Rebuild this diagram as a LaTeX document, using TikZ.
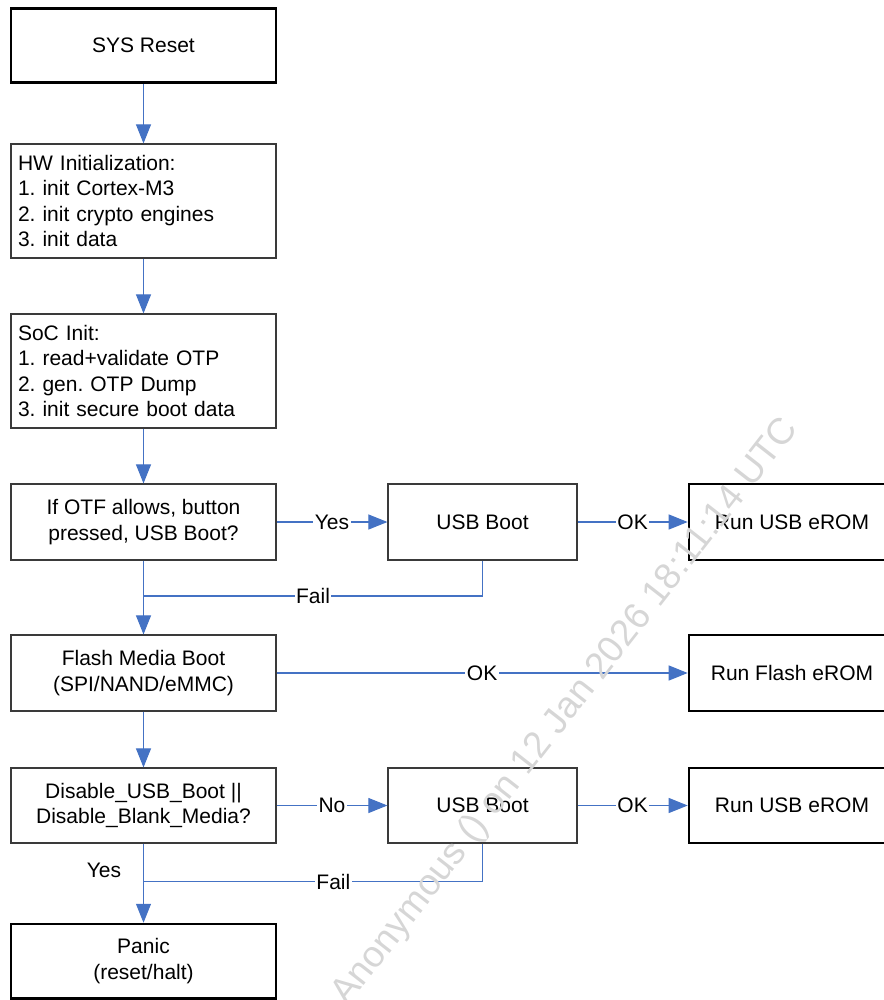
\documentclass[tikz,border=0pt]{standalone}
\usepackage{fontspec}
\setmainfont{Liberation Sans}
\usetikzlibrary{arrows.meta}
\definecolor{lineblue}{HTML}{4472C4}
\definecolor{boxgray}{HTML}{3A3A3A}
\newcommand\mainsz{\fontsize{21}{25.5}\selectfont\frenchspacing}
\tikzset{
  box/.style={draw=boxgray, line width=1.2pt, minimum width=265pt, minimum height=76pt,
              inner sep=0pt, align=center, font=\mainsz},
  listbox/.style={box, align=left, text width=251pt, inner xsep=7pt, inner ysep=0pt, minimum height=114pt},
  smallbox/.style={box, minimum width=189pt},
  runbox/.style={box, minimum width=206pt},
  heavy/.style={draw=black, line width=2.6pt},
  wire/.style={draw=lineblue, line width=1.1pt},
  conn/.style={wire, -{Triangle[length=19pt,width=15pt]}},
  lbl/.style={fill=white, inner sep=1.5pt, font=\mainsz, text=black},
}
\begin{document}
\begin{tikzpicture}[x=1pt, y=-1pt]
\useasboundingbox (0,0) rectangle (883,1000);

% left column
\node[box, heavy, minimum height=74.5pt] (sys) at (143.5,45.5) {SYS Reset};
\node[listbox] (hw) at (143.5,201) {HW Initialization:\\1. init Cortex-M3\\2. init crypto engines\\3. init data};
\node[listbox] (soc) at (143.5,371) {SoC Init:\\1. read+validate OTP\\2. gen. OTP Dump\\3. init secure boot data};
\node[box] (otf) at (143.5,522) {If OTF allows, button\\pressed, USB Boot?};
\node[box] (flash) at (143.5,673) {Flash Media Boot\\(SPI/NAND/eMMC)};
\node[box, minimum height=75pt] (dis) at (143.5,805.5) {Disable\_USB\_Boot ||\\Disable\_Blank\_Media?};
\node[box, heavy, minimum height=74.5pt] (panic) at (143.5,961.3) {Panic\\(reset/halt)};

% right columns
\node[smallbox] (usb1) at (482.5,522) {USB Boot};
\node[runbox, heavy] (run1) at (792,522) {Run USB eROM};
\node[runbox, heavy] (runf) at (792,673) {Run Flash eROM};
\node[smallbox, minimum height=75pt] (usb2) at (482.5,805.5) {USB Boot};
\node[runbox, heavy, minimum height=75pt] (run2) at (792,805.5) {Run USB eROM};

% junctions of the fail paths
\coordinate (j1) at (143.5,596);
\coordinate (j2) at (143.5,881.5);

% main flow
\draw[conn] (sys) -- (hw);
\draw[conn] (hw) -- (soc);
\draw[conn] (soc) -- (otf);
\draw[conn] (otf) -- (flash);
\draw[conn] (flash) -- (dis);
\draw[conn] (dis) -- (panic);
\node[lbl, fill=none] (yeslbl) at (104,870) {Yes};

% first USB attempt
\draw[conn] (otf) -- node[lbl] {Yes} (usb1);
\draw[conn] (usb1) -- node[lbl] {OK} (run1);
\draw[wire] (usb1.south) |- node[lbl, pos=0.75] {Fail} (j1);

% flash boot
\draw[conn] (flash) -- node[lbl] {OK} (runf);

% second USB attempt
\draw[conn] (dis) -- node[lbl] {No} (usb2);
\draw[conn] (usb2) -- node[lbl] {OK} (run2);
\draw[wire] (usb2.south) |- node[lbl, pos=0.72] {Fail} (j2);

% stamp across the sheet
\node[rotate=52, text=black!16, font=\fontsize{37}{37}\selectfont] (stamp) at (566,712)
  {Anonymous () on 12 Jan 2026 18:11:14 UTC};
\end{tikzpicture}
\end{document}
